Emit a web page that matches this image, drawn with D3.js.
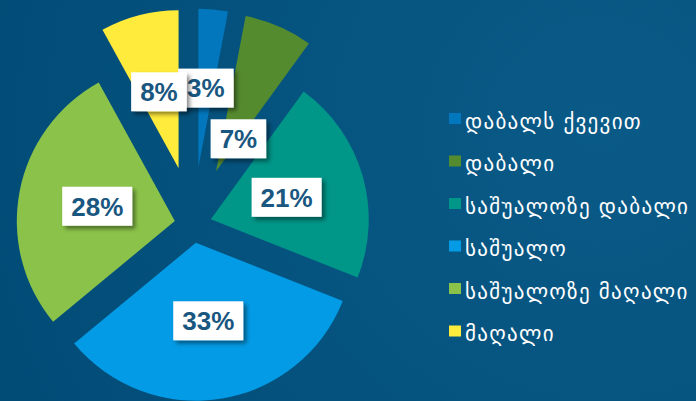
<!DOCTYPE html>
<html>
<head>
<meta charset="utf-8">
<script src="https://cdn.jsdelivr.net/npm/d3@7/dist/d3.min.js"></script>
<style>
  html, body { margin: 0; padding: 0; background: #014d78; }
  svg { display: block; }
</style>
</head>
<body>
<svg id="chart" width="696" height="401"></svg>
<script>
// Share of respondents by level
const categories = ["დაბალს ქვევით", "დაბალი", "საშუალოზე დაბალი", "საშუალო", "საშუალოზე მაღალი", "მაღალი"];
const shares = [3, 7, 21, 33, 28, 8];
const colors = ["#0277bd", "#558b2f", "#009688", "#039be5", "#8bc34a", "#ffeb3b"];

const W = 696, H = 401;
const svg = d3.select("#chart");
const defs = svg.append("defs");

// background
const bg = defs.append("radialGradient").attr("id", "bg")
  .attr("gradientUnits", "userSpaceOnUse")
  .attr("cx", 600).attr("cy", 130).attr("r", 640);
bg.append("stop").attr("offset", 0).attr("stop-color", "#0a5a87");
bg.append("stop").attr("offset", 1).attr("stop-color", "#014c77");
svg.append("rect").attr("width", W).attr("height", H).attr("fill", "url(#bg)");

// label box shadow
const sh = defs.append("filter").attr("id", "shadow")
  .attr("x", "-30%").attr("y", "-30%").attr("width", "160%").attr("height", "160%");
sh.append("feDropShadow").attr("dx", 3).attr("dy", 3).attr("stdDeviation", 2)
  .attr("flood-color", "#000").attr("flood-opacity", 0.45);

const cx = 193, cy = 224.5, R = 158;
const pie = d3.pie().sort(null).value(d => d.v).startAngle(0).endAngle(2 * Math.PI);
const data = pie(categories.map((c, i) => ({ c, v: shares[i], col: colors[i] })));
const arc = d3.arc().innerRadius(0).outerRadius(R);

// small slices are pulled further out of the pie
const explode = d => (d.data.v < 10 ? 58 : 18.5);
const dir = d => {
  const m = (d.startAngle + d.endAngle) / 2;
  return [Math.sin(m), -Math.cos(m)];
};

const g = svg.append("g").attr("transform", `translate(${cx},${cy})`);
g.selectAll("path.slice").data(data).join("path")
  .attr("class", "slice")
  .attr("fill", d => d.data.col)
  .attr("d", arc)
  .attr("transform", d => {
    const [ux, uy] = dir(d), e = explode(d);
    return `translate(${ux * e},${uy * e})`;
  });

// percentage labels
const labelShift = { "დაბალი": [-9, 40] };
const lg = g.selectAll("g.lab").data(data).join("g").attr("class", "lab")
  .attr("transform", d => {
    const [ux, uy] = dir(d), t = explode(d) + R / 2;
    const s = labelShift[d.data.c] || [0, 0];
    return `translate(${ux * t + s[0]},${uy * t + s[1]})`;
  });
const rects = lg.append("rect").attr("fill", "#fff").attr("filter", "url(#shadow)");
const texts = lg.append("text")
  .attr("text-anchor", "middle")
  .attr("y", 9.3)
  .attr("font-family", "'Liberation Sans', Arial, sans-serif")
  .attr("font-weight", "bold")
  .attr("font-size", 26)
  .attr("fill", "#195680")
  .text(d => d.data.v + "%");
texts.each(function () {
  const w = this.getComputedTextLength() + 18;
  d3.select(this.parentNode).select("rect")
    .attr("x", -w / 2).attr("y", -19.5).attr("width", w).attr("height", 39);
});

// legend
const leg = svg.append("g").attr("transform", "translate(449,113)");
const rows = leg.selectAll("g").data(categories).join("g")
  .attr("transform", (d, i) => `translate(0,${i * 42.5})`);
rows.append("rect").attr("width", 12).attr("height", 11)
  .attr("fill", (d, i) => colors[i]);
rows.append("text")
  .attr("x", 16).attr("y", 15.5)
  .attr("font-family", "'DejaVu Sans', sans-serif")
  .attr("font-size", 21)
  .attr("letter-spacing", 1.3)
  .attr("fill", "#ffffff")
  .text(d => d);
</script>
</body>
</html>
